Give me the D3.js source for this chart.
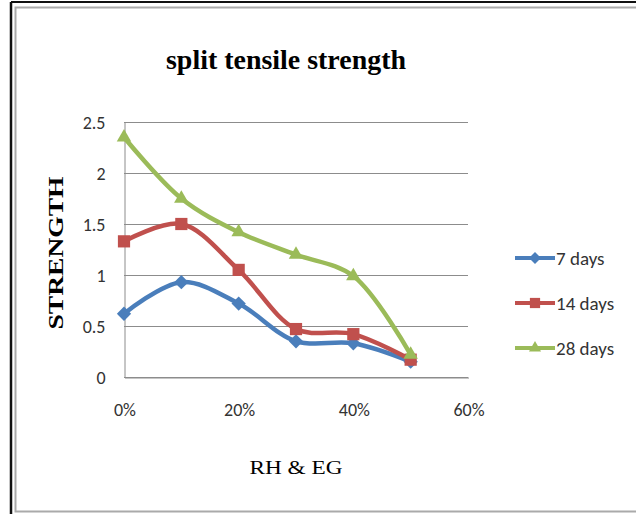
<!DOCTYPE html>
<html>
<head>
<meta charset="utf-8">
<script src="https://cdn.jsdelivr.net/npm/d3@7"></script>
<style>
  body { margin: 0; background: #fff; }
  .tick text { font-family: Carlito, "Open Sans", "Liberation Sans", sans-serif; }
</style>
</head>
<body>
<svg id="chart" width="636" height="514"></svg>
<script>
const categories = [0, 0.1, 0.2, 0.3, 0.4, 0.5];
const days7 = [0.62, 0.93, 0.72, 0.35, 0.33, 0.15];
const days14 = [1.33, 1.50, 1.05, 0.47, 0.42, 0.17];
const days28 = [2.35, 1.75, 1.42, 1.20, 0.99, 0.22];
const seriesNames = ['7 days', '14 days', '28 days'];
const yTicks = [0, 0.5, 1, 1.5, 2, 2.5];
const xTicks = [0, 0.2, 0.4, 0.6];

const series = [
  { name: seriesNames[0], values: days7, color: '#4a7ebb', symbol: d3.symbolDiamond2, size: 130 },
  { name: seriesNames[1], values: days14, color: '#c0504d', symbol: d3.symbolSquare2, size: 190 },
  { name: seriesNames[2], values: days28, color: '#9bbb59', symbol: d3.symbolTriangle2, size: 150 }
];

const svg = d3.select('#chart');

// frame
svg.append('rect').attr('width', 636).attr('height', 514).attr('fill', '#fff');
svg.append('line').attr('x1', 11).attr('x2', 636).attr('y1', 2).attr('y2', 2)
  .attr('stroke', '#111').attr('stroke-width', 2);
svg.append('line').attr('x1', 11).attr('x2', 11).attr('y1', 2).attr('y2', 514)
  .attr('stroke', '#111').attr('stroke-width', 2.5);
svg.append('path').attr('d', 'M636,7.5H15.5V511.5H636')
  .attr('fill', 'none').attr('stroke', '#aaa').attr('stroke-width', 2);

const plotLeft = 124, plotRight = 468, plotTop = 122, plotBottom = 377;

const x = d3.scaleLinear().domain([0, 0.6]).range([plotLeft, plotRight]);
const y = d3.scaleLinear().domain([0, 2.5]).range([plotBottom, plotTop]);

// gridlines
svg.append('g')
  .selectAll('line')
  .data(yTicks)
  .join('line')
  .attr('x1', plotLeft)
  .attr('x2', plotRight)
  .attr('y1', d => Math.round(y(d)) + 0.5)
  .attr('y2', d => Math.round(y(d)) + 0.5)
  .attr('stroke', '#8c8c8c')
  .attr('stroke-width', 1);

// y axis
const yAxis = svg.append('g')
  .attr('transform', `translate(${plotLeft + 0.5}, 0.5)`)
  .call(d3.axisLeft(y).tickValues(yTicks).tickSize(0).tickPadding(19).tickFormat(d3.format('')));
yAxis.select('.domain').attr('stroke', '#8c8c8c');
yAxis.selectAll('.tick text').attr('font-size', 18).attr('fill', '#333');

// x axis
const xAxis = svg.append('g')
  .attr('transform', `translate(0.5, ${plotBottom + 0.5})`)
  .call(d3.axisBottom(x).tickValues(xTicks).tickSize(0).tickPadding(26).tickFormat(d3.format('.0%')));
xAxis.select('.domain').attr('stroke', '#8c8c8c');
xAxis.selectAll('.tick text').attr('font-size', 18).attr('fill', '#333');

const line = d3.line()
  .x((d, i) => x(categories[i]))
  .y(d => y(d))
  .curve(d3.curveCatmullRom.alpha(0.5));

series.forEach(s => {
  svg.append('path')
    .attr('d', line(s.values))
    .attr('fill', 'none')
    .attr('stroke', s.color)
    .attr('stroke-width', 4.5)
    .attr('stroke-linejoin', 'round');
  svg.append('g')
    .selectAll('path')
    .data(s.values)
    .join('path')
    .attr('transform', (d, i) => `translate(${x(categories[i])}, ${y(d)})`)
    .attr('d', d3.symbol(s.symbol, s.size))
    .attr('fill', s.color);
});

// legend
const legend = svg.append('g');
series.forEach((s, i) => {
  const ly = 258 + i * 45;
  legend.append('line').attr('x1', 515).attr('x2', 555).attr('y1', ly).attr('y2', ly)
    .attr('stroke', s.color).attr('stroke-width', 4);
  legend.append('path').attr('transform', `translate(535, ${ly})`)
    .attr('d', d3.symbol(s.symbol, s.size * 0.7)).attr('fill', s.color);
  legend.append('text').attr('x', 556).attr('y', ly + 7)
    .attr('font-family', 'Carlito, "Open Sans", "Liberation Sans", sans-serif')
    .attr('font-size', 19).attr('fill', '#333')
    .text(s.name);
});

// title
svg.append('text')
  .attr('x', 286).attr('y', 69)
  .attr('text-anchor', 'middle')
  .attr('font-family', '"Liberation Serif", "DejaVu Serif", serif')
  .attr('font-weight', 'bold').attr('font-size', 27)
  .attr('textLength', 240).attr('lengthAdjust', 'spacingAndGlyphs')
  .text('split tensile strength');

// axis titles
svg.append('text')
  .attr('transform', 'translate(63, 253) rotate(-90)')
  .attr('text-anchor', 'middle')
  .attr('font-family', '"Liberation Serif", "DejaVu Serif", serif')
  .attr('font-weight', 'bold').attr('font-size', 20)
  .attr('textLength', 153).attr('lengthAdjust', 'spacingAndGlyphs')
  .text('STRENGTH');

svg.append('text')
  .attr('x', 296).attr('y', 474)
  .attr('text-anchor', 'middle')
  .attr('font-family', '"Liberation Serif", "DejaVu Serif", serif')
  .attr('font-size', 19)
  .attr('textLength', 93).attr('lengthAdjust', 'spacingAndGlyphs')
  .text('RH & EG');
</script>
</body>
</html>
